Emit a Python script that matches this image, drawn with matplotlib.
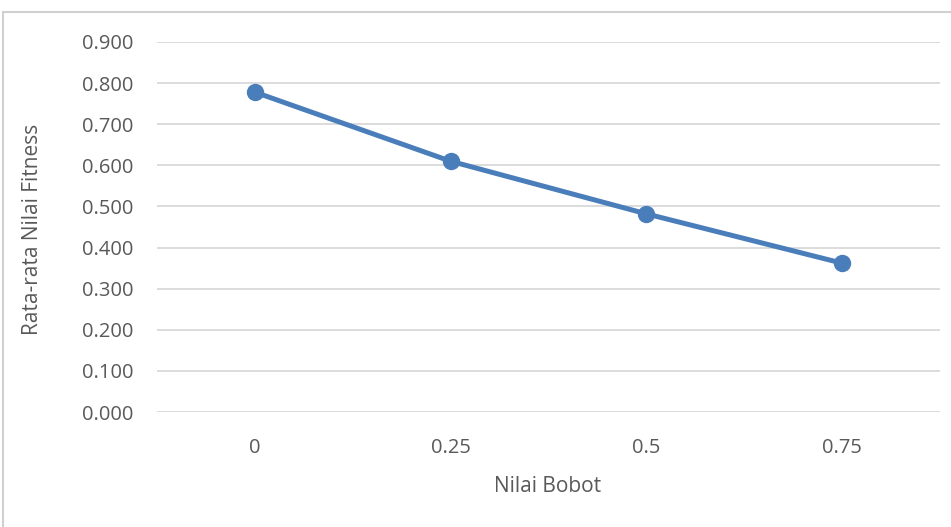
import matplotlib.pyplot as plt
from matplotlib.patches import Rectangle
from matplotlib.ticker import FuncFormatter

categories = ["0", "0.25", "0.5", "0.75"]
fitness = [0.778, 0.610, 0.482, 0.362]
y_ticks = [0.0, 0.1, 0.2, 0.3, 0.4, 0.5, 0.6, 0.7, 0.8, 0.9]

W, H = 951, 527
fig = plt.figure(figsize=(W / 100, H / 100), dpi=100)
plt.rcParams['font.family'] = ['Open Sans', 'DejaVu Sans']
text_color = '#595959'

# chart frame
fig.patches.append(Rectangle((3 / W, -0.01), 1.0, 1 - 12 / H + 0.01, transform=fig.transFigure,
                             fill=False, edgecolor='#d0d0d0', linewidth=1.5))

ax = fig.add_axes([157 / W, 1 - 412 / H, (940 - 157) / W, (412 - 42) / H])
x = list(range(len(categories)))
ax.plot(x, fitness, color='#4a7ebb', linewidth=3.6, marker='o', markersize=11.5,
        solid_capstyle='round', zorder=3)

ax.set_xlim(-0.5, len(categories) - 0.5)
ax.set_ylim(0, 0.9)
ax.set_xticks(x)
ax.set_xticklabels(categories)
ax.set_yticks(y_ticks)
ax.yaxis.set_major_formatter(FuncFormatter(lambda v, p: f"{v:.3f}"))
ax.grid(axis='y', color='#d9d9d9', linewidth=1.3)
ax.set_axisbelow(True)
for s in ax.spines.values():
    s.set_visible(False)
ax.tick_params(axis='both', length=0, labelsize=14.5, colors=text_color)
ax.tick_params(axis='y', pad=17)
ax.tick_params(axis='x', pad=19)

fig.text(548 / W, 1 - 487 / H, "Nilai Bobot", fontsize=15, color=text_color,
         ha='center', va='center')
fig.text(33 / W, 1 - 229 / H, "Rata-rata Nilai Fitness", fontsize=15, color=text_color,
         ha='center', va='center', rotation=90)

fig.savefig("out.png", dpi=100, facecolor='white')
